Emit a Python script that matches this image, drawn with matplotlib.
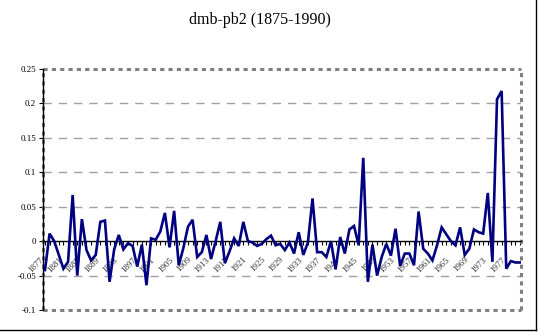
import matplotlib
matplotlib.use("Agg")
import matplotlib.pyplot as plt
import matplotlib.transforms as mtransforms
from matplotlib.lines import Line2D
import numpy as np

# ===== Data =====
years = list(range(1877, 1981))
values = [
    -0.042, 0.011, 0.000, -0.020, -0.040, -0.030, 0.067, -0.050, 0.032, -0.013,
    -0.028, -0.020, 0.028, 0.030, -0.059, -0.012, 0.009, -0.012, -0.003, -0.007,
    -0.037, -0.005, -0.064, 0.004, 0.002, 0.014, 0.041, -0.009, 0.044, -0.035,
    -0.010, 0.021, 0.031, -0.023, -0.016, 0.009, -0.026, 0.000, 0.028, -0.032,
    -0.015, 0.004, -0.007, 0.028, 0.000, -0.002, -0.007, -0.004, 0.003, 0.008,
    -0.006, -0.004, -0.013, -0.002, -0.018, 0.013, -0.020, -0.002, 0.062, -0.016,
    -0.016, -0.023, 0.000, -0.041, 0.006, -0.018, 0.017, 0.022, -0.006, 0.121,
    -0.059, -0.005, -0.050, -0.023, -0.004, -0.021, 0.018, -0.036, -0.018, -0.018,
    -0.035, 0.043, -0.011, -0.018, -0.028, -0.006, 0.020, 0.010, 0.000, -0.006,
    0.020, -0.020, -0.011, 0.017, 0.013, 0.011, 0.070, -0.030, 0.206, 0.218,
    -0.040, -0.029, -0.031, -0.031,
]
ytick_vals = [-0.1, -0.05, 0, 0.05, 0.1, 0.15, 0.2, 0.25]
ytick_labels = ["-0.1", "-0.05", "0", "0.05", "0.1", "0.15", "0.2", "0.25"]
title = "dmb-pb2 (1875-1990)"

# ===== Styling =====
plt.rcParams['font.family'] = ['Liberation Serif', 'DejaVu Serif']
plt.rcParams['lines.scale_dashes'] = False
line_color = "#000080"
grid_color = "#a0a0a0"
border_color = "#808080"

# ===== Figure =====
fig = plt.figure(figsize=(5.44, 3.36), dpi=100)
ax = fig.add_axes([43 / 544, 26 / 336, 478 / 544, 241 / 336])

x = np.arange(len(values))
ax.plot(x, values, color=line_color, linewidth=1.9, zorder=5, solid_joinstyle='miter')

ax.set_xlim(-0.43, len(values) - 0.8)
ax.set_ylim(-0.1, 0.25)

# ===== Gridlines =====
for yv in ytick_vals[1:-1]:
    if yv != 0:
        ax.axhline(yv, color=grid_color, linewidth=1.0, linestyle=(0, (6, 5)), zorder=1)

# ===== Plot-area border (dashed gray) =====
bstyle = dict(color=border_color, linewidth=2.2, linestyle=(0, (3, 3)),
              transform=ax.transAxes, clip_on=False, zorder=2)
ax.plot([0, 1], [1, 1], **bstyle)
ax.plot([1, 1], [0, 1], **bstyle)
ax.plot([0, 1], [0, 0], **bstyle)
ax.plot([0, 0], [0, 1], **bstyle)

# ===== Spines =====
for s in ['top', 'right']:
    ax.spines[s].set_visible(False)
ax.spines['left'].set_color('black')
ax.spines['left'].set_linewidth(1.0)
ax.spines['left'].set_zorder(3)
ax.spines['bottom'].set_position(('data', 0))
ax.spines['bottom'].set_color('black')
ax.spines['bottom'].set_linewidth(1.0)
ax.spines['bottom'].set_zorder(3)

# ===== Ticks =====
ax.set_yticks(ytick_vals)
ax.set_yticklabels(ytick_labels, fontsize=6.5)
ax.tick_params(axis='y', direction='out', length=3, width=0.8, pad=2)

ax.set_xticks(x[::4])
ax.set_xticks(x, minor=True)
ax.set_xticklabels([str(y) for y in years[::4]], fontsize=6.5, color='#333333',
                   rotation=45, ha='right', va='top', rotation_mode='anchor')
ax.tick_params(axis='x', which='both', direction='out', length=3, width=0.8, pad=1)

offset = mtransforms.ScaledTranslation(-5 / 100, -9 / 100, fig.dpi_scale_trans)
for lab in ax.get_xticklabels():
    lab.set_transform(lab.get_transform() + offset)

# ===== Title =====
fig.text(260 / 544, 1 - 20 / 336, title, ha='center', va='center', fontsize=11.5)

# ===== Outer frame (right & bottom edges) =====
fig.add_artist(Line2D([536 / 544, 536 / 544], [6 / 336, 1], color='black', linewidth=1.0))
fig.add_artist(Line2D([0, 536 / 544], [6 / 336, 6 / 336], color='black', linewidth=1.0))

fig.savefig("out.png", dpi=100)
